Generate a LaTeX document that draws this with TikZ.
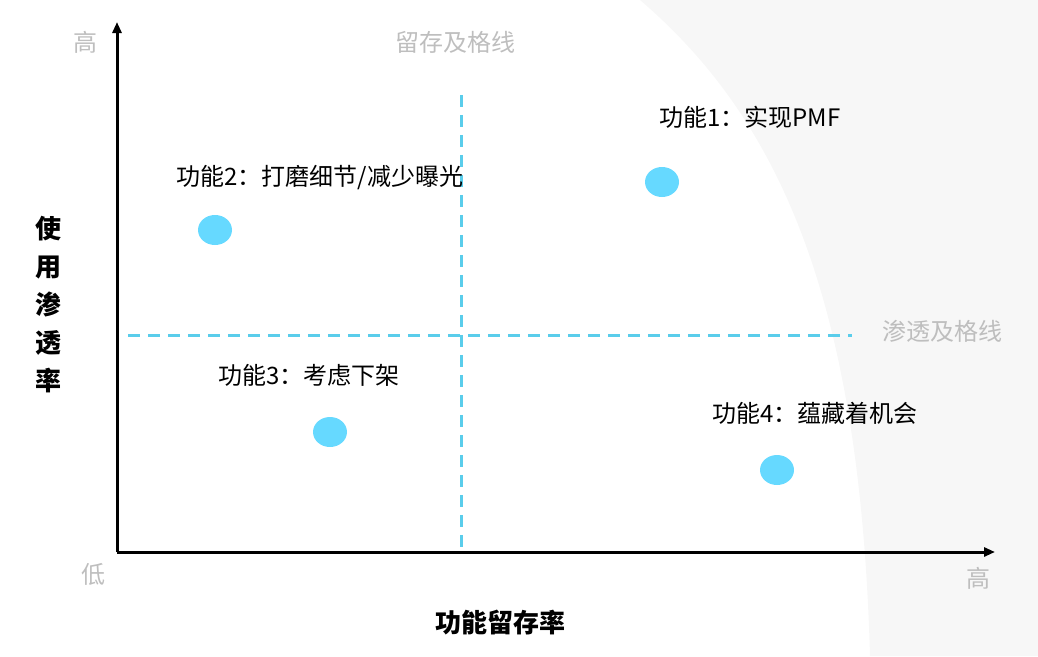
\documentclass[tikz,border=0pt]{standalone}
\usepackage{fontspec}
\setmainfont{Noto Sans CJK SC}
\usetikzlibrary{arrows.meta,shapes.geometric}
\definecolor{dotblue}{RGB}{102, 217, 255}
\definecolor{lineblue}{RGB}{90, 205, 235}
\definecolor{lightgrey}{RGB}{190, 190, 190}
\tikzset{every picture/.style={line width=0.75pt}}
\begin{document}
\begin{tikzpicture}[x=1pt,y=1pt,yscale=-1,xscale=1,
  axis/.style={line width=3pt,-{Triangle[length=11pt,width=9pt]}},
  passline/.style={lineblue,line width=3pt,dash pattern=on 12pt off 8pt},
  dot/.style={fill=dotblue,draw=none,ellipse,minimum width=34pt,minimum height=30pt,inner sep=0pt},
  feat/.style={font=\fontsize{24}{28}\selectfont,text=black},
  grey/.style={font=\fontsize{24}{28}\selectfont,text=lightgrey},
  title/.style={font=\fontsize{26}{32}\selectfont\bfseries,text=black}]
\useasboundingbox (0,0) rectangle (1038,656);
%background shade
\fill [black!3] (640,0) -- (1038,0) -- (1038,656) -- (870,656) .. controls (860,300) and (780,120) .. (640,0) -- cycle;

%axes
\coordinate (origin) at (117,552);
\coordinate (ytop) at (117,22);
\coordinate (xend) at (995,552);
\draw [axis] (origin) -- (ytop);
\draw [axis] (origin) -- (xend);

%pass lines
\coordinate (vtop) at (461,95);
\coordinate (vbot) at (461,550);
\coordinate (hleft) at (128,335);
\coordinate (hright) at (852,335);
\draw [passline] (vtop) -- (vbot);
\draw [passline] (hleft) -- (hright);

% Text Node
\node [grey] (yhigh) at (85,42) {高};
\node [grey] (ylow) at (93,574) {低};
\node [grey] (xhigh) at (978,578) {高};
\node [grey] (vlabel) at (455,42) {留存及格线};
\node [grey] (hlabel) at (942,331) {渗透及格线};
\node [title,align=center] (ytitle) at (48,305) {使\\[6pt]用\\[6pt]渗\\[6pt]透\\[6pt]率};
\node [title] (xtitle) at (500,623) {功能留存率};

%features
\node [dot] (f1) at (662,182) {};
\node [dot] (f2) at (215,230) {};
\node [dot] (f3) at (330,432) {};
\node [dot] (f4) at (777,470) {};
\node [feat] (l1) at (750,117) {功能1：实现PMF};
\node [feat] (l2) at (320,178) {功能2：打磨细节/减少曝光};
\node [feat] (l3) at (309,375) {功能3：考虑下架};
\node [feat] (l4) at (815,413) {功能4：蕴藏着机会};
\end{tikzpicture}
\end{document}
